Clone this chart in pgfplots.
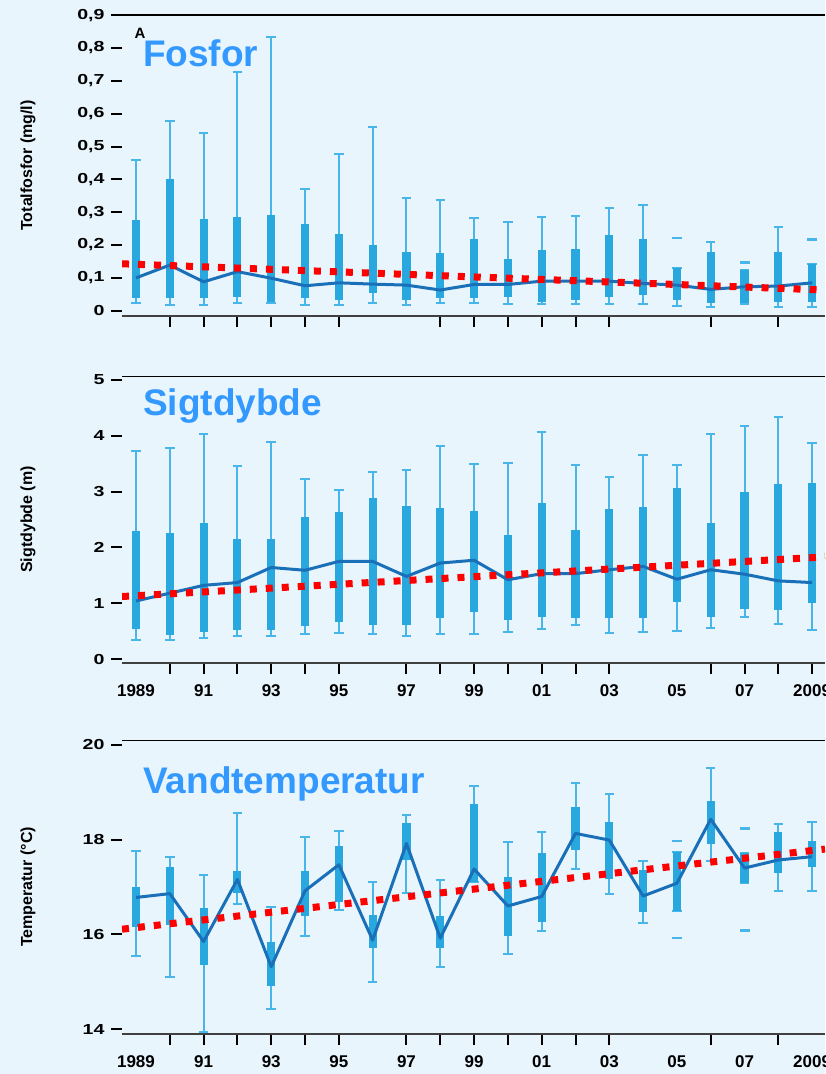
\documentclass[border=0pt]{standalone}
\usepackage{pgfplots}
\usepackage{pgfplotstable}
\usepackage{fontspec}
\setmainfont{Liberation Sans}
\newfontfamily\tickfont[FakeStretch=1.35]{Liberation Sans}
\usepgfplotslibrary{statistics}
\pgfplotsset{compat=1.18}

\definecolor{bg}{RGB}{232,245,253}
\definecolor{boxblue}{RGB}{41,168,224}
\definecolor{whisk}{RGB}{72,182,232}
\definecolor{medblue}{RGB}{26,112,184}
\definecolor{titleblue}{RGB}{51,153,255}

% year, lower whisker, Q1, median, Q3, upper whisker
\pgfplotstableread{
x lw q1 med q3 uw
1989 0.022 0.038 0.100 0.276 0.458
1990 0.017 0.038 0.139 0.401 0.578
1991 0.017 0.038 0.088 0.278 0.540
1992 0.022 0.043 0.119 0.284 0.726
1993 0.022 0.027 0.099 0.291 0.835
1994 0.017 0.038 0.076 0.264 0.370
1995 0.017 0.033 0.085 0.233 0.476
1996 0.022 0.053 0.081 0.200 0.559
1997 0.017 0.033 0.078 0.180 0.342
1998 0.022 0.038 0.063 0.175 0.336
1999 0.022 0.038 0.080 0.218 0.281
2000 0.020 0.043 0.080 0.158 0.271
2001 0.021 0.027 0.090 0.186 0.284
2002 0.020 0.033 0.090 0.188 0.288
2003 0.020 0.043 0.090 0.231 0.312
2004 0.021 0.048 0.083 0.218 0.322
2005 0.015 0.033 0.078 0.131 0.131
2006 0.012 0.022 0.065 0.178 0.210
2007 0.020 0.022 0.073 0.124 0.124
2008 0.012 0.027 0.075 0.178 0.256
2009 0.012 0.027 0.085 0.142 0.142
}\fosfor

\pgfplotstableread{
x lw q1 med q3 uw
1989 0.34 0.53 1.04 2.29 3.73
1990 0.34 0.43 1.18 2.25 3.79
1991 0.37 0.49 1.32 2.43 4.03
1992 0.41 0.52 1.37 2.15 3.46
1993 0.41 0.52 1.64 2.15 3.89
1994 0.45 0.59 1.59 2.54 3.23
1995 0.47 0.66 1.75 2.63 3.03
1996 0.45 0.61 1.75 2.88 3.36
1997 0.41 0.61 1.48 2.74 3.39
1998 0.45 0.73 1.72 2.70 3.82
1999 0.45 0.85 1.77 2.66 3.49
2000 0.48 0.70 1.42 2.23 3.52
2001 0.53 0.75 1.53 2.79 4.06
2002 0.61 0.73 1.53 2.31 3.48
2003 0.47 0.74 1.60 2.69 3.26
2004 0.49 0.74 1.66 2.72 3.66
2005 0.51 1.03 1.43 3.06 3.48
2006 0.55 0.76 1.60 2.43 4.03
2007 0.75 0.89 1.52 2.99 4.18
2008 0.63 0.88 1.40 3.13 4.33
2009 0.52 1.01 1.37 3.16 3.87
}\sigt

\pgfplotstableread{
x lw q1 med q3 uw
1989 15.55 16.16 16.78 16.99 17.75
1990 15.11 16.20 16.86 17.43 17.64
1991 13.95 15.36 15.85 16.55 17.26
1992 16.64 16.87 17.16 17.33 18.56
1993 14.42 14.92 15.32 15.85 16.57
1994 15.97 16.38 16.92 17.34 18.06
1995 16.52 16.69 17.47 17.87 18.18
1996 14.99 15.71 15.88 16.41 17.11
1997 16.88 17.57 17.92 18.35 18.51
1998 15.32 15.71 15.92 16.39 17.14
1999 17.11 17.11 17.38 18.75 19.13
2000 15.58 15.97 16.60 17.21 17.95
2001 16.08 16.26 16.80 17.71 18.16
2002 17.38 17.78 18.13 18.68 19.19
2003 16.85 17.17 17.99 18.38 18.96
2004 16.24 16.47 16.81 17.36 17.55
2005 16.50 16.50 17.08 17.73 17.73
2006 17.54 17.91 18.43 18.82 19.51
2007 17.08 17.08 17.40 17.71 17.71
2008 16.92 17.30 17.57 18.16 18.32
2009 16.92 17.42 17.64 17.98 18.38
}\temp

% x axis runs in years since 1989 (0 = 1989 ... 20 = 2009)
\pgfplotsset{
  panel/.style={
    scale only axis, width=703pt,
    xmin=-0.414, xmax=20.38,
    axis line style={draw=none},
    tick align=outside, major tick length=11pt,
    ytick pos=left, xtick pos=bottom,
    tick style={black, line width=2pt},
    yticklabel style={font=\fontsize{14.5}{18}\selectfont\tickfont\bfseries, xshift=-3pt},
    xticklabel style={font=\fontsize{17}{20}\selectfont\bfseries, yshift=-18pt},
    every axis y label/.style={at={([xshift=-94pt]rel axis cs:0,0.5)},
      anchor=center, rotate=90, font=\fontsize{16}{18}\selectfont\bfseries},
  },
  yearlabels/.style={
    xticklabels={},
    extra x ticks={0,2,4,6,8,10,12,14,16,18,20},
    extra x tick labels={1989,91,93,95,97,99,01,03,05,07,2009},
    extra x tick style={major tick length=0pt},
  },
  bxp/.style={
    draw=boxblue,
    boxplot/draw direction=y,
    boxplot/box extend=0.24,
    boxplot/whisker extend=0.28,
    boxplot/every box/.style={fill=boxblue, draw=none},
    boxplot/every whisker/.style={draw=whisk, line width=2pt},
    boxplot/every median/.style={draw=none},
  },
  trend/.style={red, line width=7pt, dash pattern=on 7pt off 9pt},
  medline/.style={medblue, line width=3pt, line join=round},
}

% one prepared box per table row
\newcommand{\boxes}[1]{%
  \pgfplotsinvokeforeach{0,...,20}{%
    \pgfplotstablegetelem{##1}{lw}\of{#1}\let\blw\pgfplotsretval
    \pgfplotstablegetelem{##1}{q1}\of{#1}\let\bqa\pgfplotsretval
    \pgfplotstablegetelem{##1}{med}\of{#1}\let\bmed\pgfplotsretval
    \pgfplotstablegetelem{##1}{q3}\of{#1}\let\bqc\pgfplotsretval
    \pgfplotstablegetelem{##1}{uw}\of{#1}\let\buw\pgfplotsretval
    \edef\tmp{\noexpand\addplot[bxp, boxplot prepared={draw position=##1,
      lower whisker=\blw, lower quartile=\bqa, median=\bmed,
      upper quartile=\bqc, upper whisker=\buw}] coordinates {};}%
    \tmp
  }%
}

\newcommand{\panelframe}{%
  \draw[black, line width=2.2pt] (rel axis cs:0,1) -- (rel axis cs:1,1);
  \draw[black!75, line width=2pt] (rel axis cs:0,0) -- (rel axis cs:1,0);
}

\begin{document}
\begin{tikzpicture}
\fill[bg] (0,0) rectangle (825pt,-1074pt);

% Fosfor
\begin{axis}[panel, at={(122pt,-316pt)}, anchor=south west, height=301pt,
  ymin=-0.0161, ymax=0.9007,
  ytick={0,0.1,0.2,0.3,0.4,0.5,0.6,0.7,0.8,0.9},
  yticklabels={0,{0,1},{0,2},{0,3},{0,4},{0,5},{0,6},{0,7},{0,8},{0,9}},
  xtick={1,2,3,4,5,6,9,10,11,12,13,14,17,19},
  xticklabels={},
  ylabel={Totalfosfor (mg/l)}]
\panelframe
\boxes{\fosfor}
\addplot[only marks, mark=-, mark size=5pt, whisk, line width=2.5pt]
  coordinates {(16,0.222) (18,0.147) (20,0.217)};
\addplot[medline] table[x expr=\thisrow{x}-1989, y=med] {\fosfor};
\addplot[trend] coordinates {(-0.414,0.143) (20.38,0.063)};
\end{axis}

% Sigtdybde
\begin{axis}[panel, yearlabels, at={(122pt,-663pt)}, anchor=south west, height=287pt,
  ymin=-0.0717, ymax=5.072,
  ytick={0,1,2,3,4,5}, yticklabels={0,1,2,3,4,5},
  xtick={1,2,3,4,5,6,8,9,10,11,12,13,14,17,18,19,20},
  ylabel={Sigtdybde (m)}]
\panelframe
\boxes{\sigt}
\addplot[medline] table[x expr=\thisrow{x}-1989, y=med] {\sigt};
\addplot[trend] coordinates {(-0.414,1.12) (20.38,1.83)};
\end{axis}

% Vandtemperatur
\begin{axis}[panel, yearlabels, at={(122pt,-1034pt)}, anchor=south west, height=294pt,
  ymin=13.90, ymax=20.10,
  ytick={14,16,18,20}, yticklabels={14,16,18,20},
  xtick={1,2,3,4,5,6,8,9,10,11,12,13,14,17,19},
  ylabel={Temperatur (°C)}]
\panelframe
\boxes{\temp}
\addplot[only marks, mark=-, mark size=5pt, whisk, line width=2.5pt]
  coordinates {(16,17.97) (16,15.93) (18,18.23) (18,16.08)};
\addplot[medline] table[x expr=\thisrow{x}-1989, y=med] {\temp};
\addplot[trend] coordinates {(-0.414,16.11) (20.38,17.80)};
\end{axis}

\node[anchor=base west, font=\fontsize{15}{18}\selectfont\bfseries] at (131pt,-38pt) {A};
\begin{scope}[every node/.style={anchor=base west, text=titleblue,
    font=\fontsize{37}{40}\selectfont\bfseries, inner sep=0pt}]
\node at (143pt,-66.5pt) {Fosfor};
\node at (143pt,-415pt) {Sigtdybde};
\node at (143pt,-793pt) {Vandtemperatur};
\end{scope}

\pgfresetboundingbox
\path[use as bounding box] (0,0) rectangle (825pt,-1074pt);
\end{tikzpicture}
\end{document}
